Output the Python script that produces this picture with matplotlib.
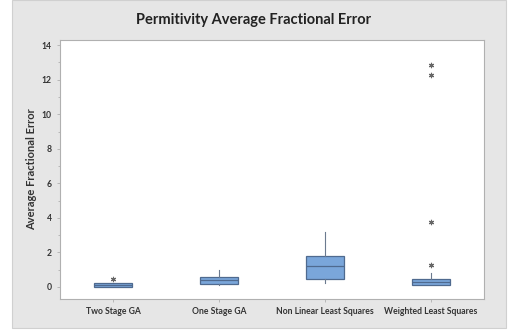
import matplotlib
matplotlib.use("Agg")
import matplotlib.pyplot as plt
from matplotlib.patches import Rectangle

plt.rcParams["font.family"] = ["Lato", "DejaVu Sans"]

categories = ["Two Stage GA", "One Stage GA", "Non Linear Least Squares", "Weighted Least Squares"]
q1 = [0.02, 0.17, 0.44, 0.13]
med = [0.10, 0.39, 1.21, 0.29]
q3 = [0.21, 0.60, 1.79, 0.48]
whislo = [0.00, 0.12, 0.21, 0.10]
whishi = [0.21, 0.98, 3.18, 0.83]
fliers = [[0.46], [], [], [1.27, 3.77, 12.25, 12.83]]
yticks = [0, 2, 4, 6, 8, 10, 12, 14]

fig = plt.figure(figsize=(5.08, 3.31), dpi=100)
fig.patch.set_facecolor("white")
bg = Rectangle((12/508, 3/331), 494/508, 328/331, transform=fig.transFigure,
               facecolor="#e6e6e6", edgecolor="#d0d0d0", lw=0.8, zorder=-10)
fig.add_artist(bg)

ax = fig.add_axes([60/508, 32/331, 424/508, 259/331])
ax.set_zorder(5)
ax.set_facecolor("white")

stats = []
for i in range(len(categories)):
    stats.append(dict(q1=q1[i], med=med[i], q3=q3[i], whislo=whislo[i], whishi=whishi[i],
                      fliers=fliers[i], label=categories[i]))

ax.bxp(stats, positions=[1, 2, 3, 4], widths=0.35, patch_artist=True, showcaps=False,
       boxprops=dict(facecolor="#7aa6da", edgecolor="#4f6a8f", lw=0.9),
       medianprops=dict(color="#4f6a8f", lw=0.9),
       whiskerprops=dict(color="#6b7a8f", lw=0.8),
       flierprops=dict(marker=(6, 2, 0), markersize=3.8, markeredgecolor="#666666",
                       markerfacecolor="#666666", markeredgewidth=0.8, linestyle="none"))

ax.set_xlim(0.5, 4.5)
ax.set_ylim(-0.7, 14.3)
ax.set_yticks(yticks)
ax.set_yticks([1, 3, 5, 7, 9, 11, 13], minor=True)
for s in ax.spines.values():
    s.set_color("#b0b0b0")
    s.set_linewidth(0.8)
ax.tick_params(axis="both", which="both", colors="#b0b0b0", length=2.5, width=0.6,
               labelcolor="#333333", labelsize=6.2)
ax.tick_params(axis="y", which="minor", length=1.5)
for lab in ax.get_xticklabels() + ax.get_yticklabels():
    lab.set_fontweight("bold")

ax.set_ylabel("Average Fractional Error", fontsize=8, fontweight="bold", color="#333333", labelpad=3)
fig.text(0.5, 1 - 20/331, "Permitivity Average Fractional Error", ha="center", va="center",
         fontsize=10.5, fontweight="bold", color="#222222")

fig.savefig("out.png", dpi=100)
